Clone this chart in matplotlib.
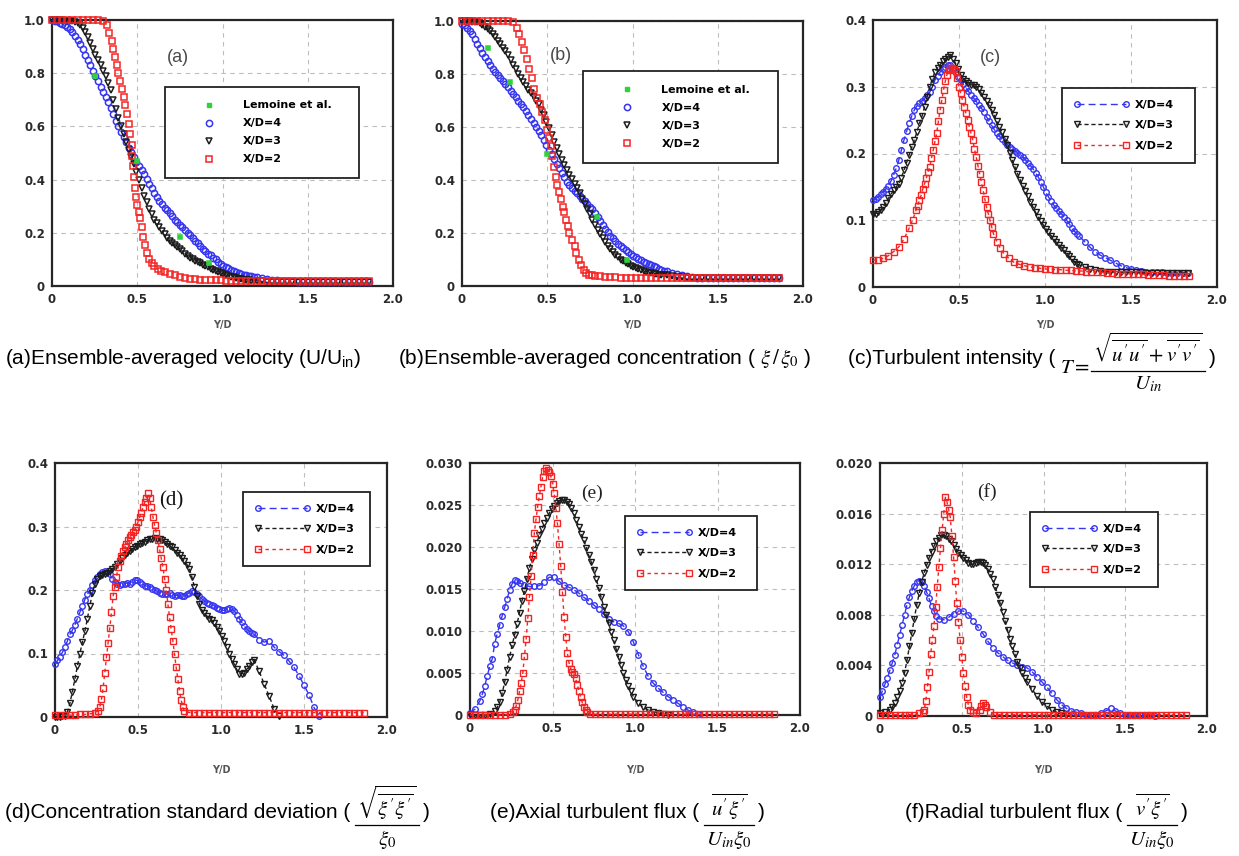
import numpy as np
import matplotlib
matplotlib.use('Agg')
import matplotlib.pyplot as plt
from matplotlib import font_manager
from matplotlib.lines import Line2D

# -----------------------------------------------------------------------------
# Profiles across the jet (Y/D), three stations X/D = 2, 3, 4
# -----------------------------------------------------------------------------

# measurement stations used by the finely sampled profiles
GRID = [0.000, 0.015, 0.030, 0.045, 0.060, 0.075, 0.090, 0.105, 0.120, 0.135,
        0.150, 0.165, 0.180, 0.195, 0.210, 0.225, 0.240, 0.255, 0.270, 0.285,
        0.300, 0.315, 0.330, 0.345, 0.360, 0.375, 0.390, 0.405, 0.420, 0.435,
        0.450, 0.465, 0.480, 0.495, 0.510, 0.525, 0.540, 0.555, 0.570, 0.585,
        0.600, 0.615, 0.630, 0.645, 0.660, 0.675, 0.690, 0.705, 0.720, 0.735,
        0.750, 0.765, 0.780, 0.795, 0.810, 0.825, 0.840, 0.855, 0.870, 0.885,
        0.900, 0.915, 0.930, 0.945, 0.960, 0.975, 0.990, 1.005, 1.020, 1.035,
        1.050, 1.065, 1.080, 1.095, 1.110, 1.125, 1.140, 1.155, 1.170, 1.185,
        1.200, 1.23, 1.26, 1.29, 1.32, 1.35, 1.38, 1.41, 1.44, 1.47,
        1.50, 1.53, 1.56, 1.59, 1.62, 1.65, 1.68, 1.71, 1.74, 1.77,
        1.80, 1.83, 1.86]

# (a) ensemble-averaged velocity U/Uin
A_X4 = [1.000, 0.998, 0.995, 0.990, 0.985, 0.981, 0.975, 0.966, 0.955, 0.941,
        0.925, 0.908, 0.890, 0.870, 0.850, 0.830, 0.810, 0.790, 0.770, 0.750,
        0.730, 0.710, 0.690, 0.668, 0.645, 0.622, 0.600, 0.580, 0.560, 0.540,
        0.520, 0.502, 0.485, 0.467, 0.450, 0.436, 0.420, 0.402, 0.385, 0.367,
        0.350, 0.334, 0.320, 0.307, 0.295, 0.285, 0.275, 0.262, 0.250, 0.240,
        0.230, 0.220, 0.210, 0.200, 0.190, 0.180, 0.170, 0.160, 0.150, 0.140,
        0.130, 0.122, 0.115, 0.107, 0.100, 0.091, 0.083, 0.077, 0.072, 0.067,
        0.062, 0.057, 0.053, 0.049, 0.046, 0.043, 0.041, 0.038, 0.036, 0.034,
        0.032, 0.029, 0.026, 0.023, 0.021, 0.019, 0.018, 0.017, 0.016, 0.016,
        0.015, 0.015, 0.015, 0.015, 0.015, 0.015, 0.015, 0.015, 0.015, 0.015,
        0.015, 0.015, 0.015]
A_X3 = [1.000, 1.000, 1.000, 0.999, 0.998, 0.997, 0.996, 0.996, 0.995, 0.993,
        0.990, 0.982, 0.970, 0.954, 0.935, 0.913, 0.890, 0.870, 0.850, 0.830,
        0.810, 0.788, 0.765, 0.735, 0.700, 0.665, 0.630, 0.600, 0.570, 0.540,
        0.510, 0.485, 0.460, 0.430, 0.400, 0.370, 0.340, 0.315, 0.290, 0.270,
        0.250, 0.235, 0.220, 0.207, 0.195, 0.182, 0.170, 0.162, 0.155, 0.148,
        0.140, 0.130, 0.120, 0.113, 0.107, 0.101, 0.095, 0.090, 0.085, 0.080,
        0.075, 0.070, 0.065, 0.060, 0.056, 0.052, 0.048, 0.044, 0.041, 0.038,
        0.035, 0.032, 0.030, 0.028, 0.026, 0.024, 0.023, 0.021, 0.020, 0.019,
        0.018, 0.017, 0.016, 0.016, 0.015, 0.015, 0.015, 0.015, 0.015, 0.015,
        0.015, 0.015, 0.015, 0.015, 0.015, 0.015, 0.015, 0.015, 0.015, 0.015,
        0.015, 0.015, 0.015]
A_X2 = [(0.00, 1.000), (0.03, 1.000), (0.06, 1.000), (0.09, 1.000), (0.12, 1.000), (0.15, 1.000),
        (0.18, 1.000), (0.21, 1.000), (0.24, 1.000), (0.27, 1.000), (0.30, 0.998), (0.32, 0.980),
        (0.335, 0.950), (0.35, 0.920), (0.36, 0.890), (0.37, 0.860), (0.38, 0.830), (0.39, 0.800),
        (0.40, 0.770), (0.41, 0.740), (0.42, 0.710), (0.43, 0.680), (0.44, 0.645), (0.45, 0.610),
        (0.46, 0.570), (0.467, 0.530), (0.472, 0.490), (0.477, 0.450), (0.482, 0.410), (0.487, 0.370),
        (0.492, 0.335), (0.50, 0.305), (0.508, 0.280), (0.516, 0.255), (0.525, 0.220), (0.535, 0.186),
        (0.545, 0.155), (0.555, 0.125), (0.57, 0.100), (0.585, 0.085), (0.60, 0.075), (0.62, 0.065),
        (0.64, 0.058), (0.66, 0.052), (0.69, 0.046), (0.72, 0.040), (0.75, 0.035), (0.78, 0.030),
        (0.81, 0.027), (0.84, 0.025), (0.87, 0.024), (0.90, 0.022), (0.93, 0.022), (0.96, 0.021),
        (0.99, 0.021), (1.02, 0.020), (1.05, 0.020), (1.08, 0.020), (1.11, 0.020), (1.14, 0.020),
        (1.17, 0.020), (1.20, 0.020), (1.23, 0.020), (1.26, 0.020), (1.29, 0.020), (1.32, 0.020),
        (1.35, 0.020), (1.38, 0.020), (1.41, 0.020), (1.44, 0.020), (1.47, 0.020), (1.50, 0.020),
        (1.53, 0.020), (1.56, 0.020), (1.59, 0.020), (1.62, 0.020), (1.65, 0.020), (1.68, 0.020),
        (1.71, 0.020), (1.74, 0.020), (1.77, 0.020), (1.80, 0.020), (1.83, 0.020), (1.86, 0.020)]
A_LEMOINE = [(0.25, 0.790), (0.50, 0.470), (0.75, 0.186), (0.92, 0.085)]

# (b) ensemble-averaged concentration xi/xi0
B_X4 = [0.990, 0.984, 0.975, 0.963, 0.950, 0.933, 0.915, 0.897, 0.880, 0.865,
        0.850, 0.835, 0.820, 0.807, 0.795, 0.785, 0.775, 0.763, 0.750, 0.737,
        0.725, 0.712, 0.700, 0.688, 0.675, 0.660, 0.645, 0.630, 0.615, 0.600,
        0.585, 0.568, 0.550, 0.533, 0.515, 0.498, 0.480, 0.462, 0.445, 0.427,
        0.410, 0.394, 0.380, 0.370, 0.360, 0.350, 0.340, 0.330, 0.320, 0.311,
        0.300, 0.289, 0.275, 0.260, 0.245, 0.230, 0.215, 0.202, 0.190, 0.180,
        0.170, 0.160, 0.150, 0.142, 0.135, 0.127, 0.120, 0.114, 0.108, 0.102,
        0.097, 0.092, 0.087, 0.082, 0.078, 0.074, 0.070, 0.066, 0.062, 0.058,
        0.055, 0.050, 0.045, 0.041, 0.037, 0.034, 0.032, 0.031, 0.030, 0.030,
        0.030, 0.030, 0.030, 0.030, 0.030, 0.030, 0.030, 0.030, 0.030, 0.030,
        0.030, 0.030, 0.030]
B_X3 = [1.000, 1.000, 1.000, 0.999, 0.998, 0.997, 0.995, 0.991, 0.985, 0.978,
        0.970, 0.961, 0.950, 0.938, 0.925, 0.913, 0.900, 0.885, 0.870, 0.853,
        0.835, 0.817, 0.800, 0.785, 0.770, 0.755, 0.740, 0.728, 0.715, 0.700,
        0.685, 0.666, 0.645, 0.620, 0.595, 0.570, 0.545, 0.522, 0.500, 0.477,
        0.455, 0.437, 0.420, 0.402, 0.385, 0.368, 0.350, 0.330, 0.310, 0.290,
        0.270, 0.250, 0.230, 0.212, 0.195, 0.180, 0.165, 0.152, 0.140, 0.129,
        0.118, 0.109, 0.100, 0.094, 0.088, 0.082, 0.077, 0.072, 0.067, 0.063,
        0.059, 0.056, 0.053, 0.050, 0.048, 0.046, 0.045, 0.043, 0.042, 0.041,
        0.040, 0.038, 0.035, 0.033, 0.031, 0.030, 0.030, 0.030, 0.030, 0.030,
        0.030, 0.030, 0.030, 0.030, 0.030, 0.030, 0.030, 0.030, 0.030, 0.030,
        0.030, 0.030, 0.030]
B_X2 = [(0.00, 1.000), (0.03, 1.000), (0.06, 1.000), (0.09, 1.000), (0.12, 1.000), (0.15, 1.000),
        (0.18, 1.000), (0.21, 1.000), (0.24, 1.000), (0.27, 1.000), (0.30, 0.995), (0.32, 0.975),
        (0.335, 0.950), (0.35, 0.920), (0.365, 0.890), (0.38, 0.855), (0.395, 0.820), (0.41, 0.785),
        (0.425, 0.745), (0.44, 0.710), (0.455, 0.685), (0.47, 0.655), (0.485, 0.625), (0.50, 0.590),
        (0.51, 0.560), (0.52, 0.530), (0.53, 0.490), (0.54, 0.450), (0.55, 0.410), (0.56, 0.380),
        (0.57, 0.355), (0.58, 0.330), (0.59, 0.300), (0.60, 0.280), (0.61, 0.250), (0.62, 0.225),
        (0.63, 0.200), (0.645, 0.175), (0.66, 0.150), (0.67, 0.125), (0.685, 0.100), (0.70, 0.080),
        (0.715, 0.062), (0.73, 0.050), (0.745, 0.043), (0.76, 0.040), (0.78, 0.038), (0.81, 0.036),
        (0.84, 0.035), (0.87, 0.034), (0.90, 0.033), (0.93, 0.032), (0.96, 0.032), (0.99, 0.031),
        (1.02, 0.031), (1.05, 0.030), (1.08, 0.030), (1.11, 0.030), (1.14, 0.030), (1.17, 0.030),
        (1.20, 0.030), (1.23, 0.030), (1.26, 0.030), (1.29, 0.030), (1.32, 0.030), (1.35, 0.030),
        (1.38, 0.030), (1.41, 0.030), (1.44, 0.030), (1.47, 0.030), (1.50, 0.030), (1.53, 0.030),
        (1.56, 0.030), (1.59, 0.030), (1.62, 0.030), (1.65, 0.030), (1.68, 0.030), (1.71, 0.030),
        (1.74, 0.030), (1.77, 0.030), (1.80, 0.030), (1.83, 0.030), (1.86, 0.030)]
B_LEMOINE = [(0.155, 0.900), (0.28, 0.770), (0.50, 0.500), (0.79, 0.260), (0.97, 0.100)]

# (c) turbulent intensity
C_X4 = [0.130, 0.132, 0.135, 0.139, 0.143, 0.147, 0.152, 0.159, 0.168, 0.178,
        0.190, 0.205, 0.220, 0.233, 0.245, 0.256, 0.265, 0.271, 0.275, 0.279,
        0.283, 0.287, 0.292, 0.300, 0.310, 0.316, 0.322, 0.327, 0.330, 0.332,
        0.332, 0.327, 0.320, 0.315, 0.310, 0.304, 0.298, 0.293, 0.288, 0.283,
        0.278, 0.273, 0.268, 0.262, 0.255, 0.248, 0.242, 0.236, 0.230, 0.226,
        0.222, 0.217, 0.213, 0.210, 0.207, 0.204, 0.201, 0.198, 0.195, 0.191,
        0.186, 0.182, 0.177, 0.171, 0.165, 0.158, 0.150, 0.142, 0.135, 0.129,
        0.123, 0.118, 0.114, 0.110, 0.105, 0.100, 0.095, 0.089, 0.084, 0.080,
        0.076, 0.068, 0.060, 0.053, 0.048, 0.044, 0.040, 0.036, 0.032, 0.029,
        0.027, 0.025, 0.024, 0.023, 0.022, 0.022, 0.022, 0.021, 0.021, 0.021,
        0.021, 0.021]
C_X3 = [0.110, 0.110, 0.112, 0.116, 0.120, 0.126, 0.133, 0.139, 0.145, 0.150,
        0.155, 0.164, 0.175, 0.186, 0.198, 0.209, 0.220, 0.232, 0.245, 0.256,
        0.270, 0.285, 0.300, 0.312, 0.322, 0.328, 0.333, 0.338, 0.342, 0.345,
        0.347, 0.342, 0.335, 0.326, 0.318, 0.312, 0.308, 0.305, 0.303, 0.302,
        0.300, 0.296, 0.290, 0.284, 0.278, 0.272, 0.265, 0.257, 0.248, 0.240,
        0.232, 0.222, 0.212, 0.201, 0.190, 0.180, 0.170, 0.161, 0.152, 0.144,
        0.136, 0.128, 0.120, 0.112, 0.105, 0.099, 0.093, 0.087, 0.082, 0.077,
        0.072, 0.067, 0.063, 0.059, 0.055, 0.050, 0.046, 0.042, 0.038, 0.035,
        0.033, 0.030, 0.027, 0.025, 0.024, 0.023, 0.023, 0.022, 0.022, 0.022,
        0.022, 0.022, 0.022, 0.021, 0.021, 0.021, 0.021, 0.021, 0.021, 0.021,
        0.021, 0.021]
C_X2 = [(0.00, 0.040), (0.03, 0.041), (0.06, 0.043), (0.09, 0.047), (0.12, 0.053), (0.15, 0.060),
        (0.18, 0.072), (0.21, 0.088), (0.23, 0.100), (0.25, 0.115), (0.26, 0.122), (0.27, 0.130),
        (0.28, 0.138), (0.29, 0.147), (0.30, 0.155), (0.31, 0.163), (0.32, 0.172), (0.33, 0.180),
        (0.34, 0.193), (0.35, 0.205), (0.36, 0.218), (0.37, 0.230), (0.38, 0.248), (0.39, 0.265),
        (0.40, 0.280), (0.41, 0.295), (0.42, 0.308), (0.43, 0.318), (0.44, 0.325), (0.45, 0.328),
        (0.46, 0.328), (0.47, 0.327), (0.48, 0.323), (0.49, 0.313), (0.50, 0.300), (0.51, 0.290),
        (0.52, 0.280), (0.53, 0.270), (0.54, 0.260), (0.55, 0.250), (0.56, 0.240), (0.57, 0.230),
        (0.58, 0.220), (0.59, 0.207), (0.60, 0.195), (0.61, 0.182), (0.62, 0.170), (0.63, 0.157),
        (0.64, 0.145), (0.65, 0.132), (0.66, 0.120), (0.67, 0.110), (0.68, 0.100), (0.69, 0.090),
        (0.70, 0.080), (0.72, 0.068), (0.74, 0.058), (0.76, 0.050), (0.79, 0.043), (0.82, 0.037),
        (0.85, 0.034), (0.88, 0.032), (0.91, 0.030), (0.94, 0.029), (0.97, 0.028), (1.00, 0.027),
        (1.03, 0.027), (1.06, 0.026), (1.09, 0.026), (1.12, 0.025), (1.15, 0.025), (1.18, 0.024),
        (1.21, 0.024), (1.24, 0.023), (1.27, 0.023), (1.30, 0.022), (1.33, 0.022), (1.36, 0.021),
        (1.39, 0.021), (1.42, 0.020), (1.45, 0.020), (1.48, 0.020), (1.51, 0.019), (1.54, 0.019),
        (1.57, 0.019), (1.60, 0.018), (1.63, 0.018), (1.66, 0.018), (1.69, 0.018), (1.72, 0.017),
        (1.75, 0.017), (1.78, 0.017), (1.81, 0.017), (1.84, 0.017)]

# (d) concentration standard deviation
D_X4 = [0.083, 0.089, 0.095, 0.102, 0.110, 0.120, 0.130, 0.137, 0.145, 0.155,
        0.165, 0.175, 0.185, 0.193, 0.200, 0.208, 0.215, 0.221, 0.225, 0.228,
        0.230, 0.228, 0.225, 0.218, 0.212, 0.209, 0.208, 0.209, 0.210, 0.211,
        0.210, 0.213, 0.216, 0.215, 0.212, 0.209, 0.207, 0.206, 0.205, 0.202,
        0.200, 0.198, 0.196, 0.194, 0.193, 0.194, 0.195, 0.192, 0.190, 0.192,
        0.192, 0.191, 0.190, 0.193, 0.196, 0.198, 0.197, 0.194, 0.190, 0.186,
        0.183, 0.180, 0.178, 0.177, 0.175, 0.172, 0.170, 0.168, 0.168, 0.170,
        0.172, 0.170, 0.167, 0.161, 0.155, 0.149, 0.143, 0.139, 0.135, 0.133,
        0.130, 0.122, 0.118, 0.120, 0.110, 0.103, 0.097, 0.088, 0.078, 0.065,
        0.050, 0.035, 0.015, 0.002]
D_X3 = [0.000, 0.000, 0.000, 0.001, 0.002, 0.008, 0.022, 0.040, 0.060, 0.080,
        0.100, 0.118, 0.135, 0.155, 0.175, 0.195, 0.210, 0.218, 0.222, 0.224,
        0.225, 0.227, 0.230, 0.233, 0.237, 0.241, 0.245, 0.250, 0.255, 0.259,
        0.262, 0.265, 0.268, 0.270, 0.272, 0.274, 0.276, 0.278, 0.280, 0.281,
        0.282, 0.281, 0.280, 0.278, 0.276, 0.273, 0.270, 0.267, 0.263, 0.259,
        0.255, 0.250, 0.245, 0.240, 0.233, 0.220, 0.205, 0.190, 0.178, 0.168,
        0.163, 0.159, 0.155, 0.152, 0.148, 0.142, 0.135, 0.128, 0.120, 0.110,
        0.100, 0.091, 0.083, 0.075, 0.068, 0.068, 0.070, 0.075, 0.080, 0.086,
        0.090, 0.072, 0.052, 0.033, 0.013, 0.001]
D_X2 = [(0.00, 0.003), (0.03, 0.003), (0.06, 0.003), (0.09, 0.003), (0.12, 0.003), (0.15, 0.004),
        (0.18, 0.004), (0.21, 0.005), (0.24, 0.006), (0.26, 0.010), (0.27, 0.016), (0.28, 0.028),
        (0.29, 0.046), (0.30, 0.070), (0.31, 0.094), (0.32, 0.117), (0.33, 0.140), (0.34, 0.165),
        (0.35, 0.190), (0.36, 0.205), (0.37, 0.220), (0.38, 0.236), (0.39, 0.245), (0.40, 0.254),
        (0.41, 0.262), (0.42, 0.267), (0.43, 0.272), (0.44, 0.278), (0.45, 0.283), (0.46, 0.287),
        (0.47, 0.291), (0.48, 0.295), (0.49, 0.300), (0.50, 0.307), (0.51, 0.315), (0.52, 0.322),
        (0.53, 0.330), (0.54, 0.338), (0.55, 0.345), (0.56, 0.352), (0.57, 0.345), (0.58, 0.330),
        (0.59, 0.315), (0.60, 0.302), (0.61, 0.290), (0.62, 0.278), (0.63, 0.264), (0.64, 0.250),
        (0.65, 0.236), (0.66, 0.218), (0.67, 0.200), (0.68, 0.178), (0.69, 0.157), (0.70, 0.138),
        (0.71, 0.120), (0.72, 0.099), (0.73, 0.078), (0.74, 0.060), (0.75, 0.041), (0.76, 0.027),
        (0.77, 0.015), (0.78, 0.009), (0.81, 0.007), (0.84, 0.007), (0.87, 0.007), (0.90, 0.007),
        (0.93, 0.007), (0.96, 0.007), (0.99, 0.007), (1.02, 0.007), (1.05, 0.007), (1.08, 0.007),
        (1.11, 0.007), (1.14, 0.007), (1.17, 0.007), (1.20, 0.007), (1.23, 0.007), (1.26, 0.007),
        (1.29, 0.007), (1.32, 0.007), (1.35, 0.007), (1.38, 0.007), (1.41, 0.007), (1.44, 0.007),
        (1.47, 0.007), (1.50, 0.007), (1.53, 0.007), (1.56, 0.007), (1.59, 0.007), (1.62, 0.007),
        (1.65, 0.007), (1.68, 0.007), (1.71, 0.007), (1.74, 0.007), (1.77, 0.007), (1.80, 0.007),
        (1.83, 0.007), (1.86, 0.007)]

# (e) axial turbulent flux
E_X4 = [(0.00, 0.0002), (0.03, 0.0007), (0.06, 0.0017), (0.075, 0.0025), (0.09, 0.0035),
        (0.105, 0.0047), (0.12, 0.0058), (0.135, 0.0067), (0.15, 0.0085), (0.165, 0.0097),
        (0.18, 0.0107), (0.195, 0.0118), (0.21, 0.0128), (0.225, 0.0138), (0.24, 0.0149),
        (0.255, 0.0156), (0.27, 0.0161), (0.285, 0.0160), (0.30, 0.0157), (0.33, 0.0155),
        (0.36, 0.0153), (0.39, 0.0153), (0.42, 0.0154), (0.45, 0.0158), (0.48, 0.0164),
        (0.51, 0.0164), (0.54, 0.0159), (0.57, 0.0155), (0.60, 0.0152), (0.63, 0.0149),
        (0.66, 0.0145), (0.69, 0.0140), (0.72, 0.0136), (0.75, 0.0131), (0.78, 0.0126),
        (0.81, 0.0120), (0.84, 0.0114), (0.87, 0.0111), (0.90, 0.0109), (0.93, 0.0106),
        (0.96, 0.0099), (0.99, 0.0087), (1.02, 0.0072), (1.05, 0.0058), (1.08, 0.0046),
        (1.11, 0.0038), (1.14, 0.0032), (1.17, 0.0027), (1.20, 0.0022), (1.23, 0.0018),
        (1.26, 0.0014), (1.29, 0.0010), (1.32, 0.0006), (1.35, 0.0003), (1.38, 0.0001)]
E_X3 = [(0.00, 0.0000), (0.03, 0.0000), (0.06, 0.0000), (0.09, 0.0000), (0.12, 0.0001),
        (0.15, 0.0005), (0.165, 0.0009), (0.18, 0.0015), (0.195, 0.0026), (0.21, 0.0039),
        (0.225, 0.0054), (0.24, 0.0069), (0.255, 0.0083), (0.27, 0.0095), (0.285, 0.0108),
        (0.30, 0.0122), (0.315, 0.0136), (0.33, 0.0148), (0.345, 0.0162), (0.36, 0.0175),
        (0.375, 0.0186), (0.39, 0.0196), (0.405, 0.0205), (0.42, 0.0214), (0.435, 0.0221),
        (0.45, 0.0228), (0.465, 0.0234), (0.48, 0.0240), (0.495, 0.0245), (0.51, 0.0249),
        (0.525, 0.0252), (0.54, 0.0255), (0.555, 0.0256), (0.57, 0.0256), (0.585, 0.0254),
        (0.60, 0.0251), (0.615, 0.0246), (0.63, 0.0240), (0.645, 0.0232), (0.66, 0.0224),
        (0.675, 0.0216), (0.69, 0.0208), (0.705, 0.0199), (0.72, 0.0190), (0.735, 0.0182),
        (0.75, 0.0173), (0.765, 0.0162), (0.78, 0.0151), (0.795, 0.0140), (0.81, 0.0129),
        (0.825, 0.0119), (0.84, 0.0109), (0.855, 0.0099), (0.87, 0.0089), (0.885, 0.0079),
        (0.90, 0.0069), (0.915, 0.0060), (0.93, 0.0050), (0.945, 0.0042), (0.96, 0.0034),
        (0.975, 0.0028), (0.99, 0.0022), (1.02, 0.0014), (1.05, 0.0009), (1.08, 0.0006),
        (1.11, 0.0004), (1.14, 0.0002), (1.17, 0.0001), (1.20, 0.0000)]
E_X2 = [(0.00, 0.0000), (0.03, 0.0000), (0.06, 0.0000), (0.09, 0.0000), (0.12, 0.0000),
        (0.15, 0.0000), (0.18, 0.0000), (0.21, 0.0000), (0.24, 0.0001), (0.26, 0.0003),
        (0.27, 0.0006), (0.28, 0.0011), (0.29, 0.0018), (0.30, 0.0028), (0.31, 0.0038),
        (0.32, 0.0050), (0.33, 0.0070), (0.34, 0.0090), (0.35, 0.0115), (0.36, 0.0140),
        (0.37, 0.0165), (0.38, 0.0190), (0.39, 0.0217), (0.40, 0.0233), (0.41, 0.0248),
        (0.42, 0.0261), (0.43, 0.0272), (0.44, 0.0283), (0.45, 0.0290), (0.46, 0.0294),
        (0.47, 0.0292), (0.48, 0.0289), (0.49, 0.0284), (0.50, 0.0275), (0.51, 0.0264),
        (0.52, 0.0247), (0.53, 0.0228), (0.54, 0.0203), (0.55, 0.0177), (0.56, 0.0147),
        (0.57, 0.0117), (0.58, 0.0093), (0.59, 0.0074), (0.60, 0.0062), (0.61, 0.0055),
        (0.62, 0.0051), (0.63, 0.0049), (0.64, 0.0044), (0.65, 0.0036), (0.66, 0.0029),
        (0.67, 0.0022), (0.68, 0.0015), (0.69, 0.0010), (0.70, 0.0006), (0.71, 0.0003),
        (0.73, 0.0001), (0.76, 0.0001), (0.79, 0.0001), (0.82, 0.0001), (0.85, 0.0001),
        (0.88, 0.0001), (0.91, 0.0001), (0.94, 0.0001), (0.97, 0.0001), (1.00, 0.0001),
        (1.03, 0.0001), (1.06, 0.0001), (1.09, 0.0001), (1.12, 0.0001), (1.15, 0.0001),
        (1.18, 0.0001), (1.21, 0.0001), (1.24, 0.0001), (1.27, 0.0001), (1.30, 0.0001),
        (1.33, 0.0001), (1.36, 0.0001), (1.39, 0.0001), (1.42, 0.0001), (1.45, 0.0001),
        (1.48, 0.0001), (1.51, 0.0001), (1.54, 0.0001), (1.57, 0.0001), (1.60, 0.0001),
        (1.63, 0.0001), (1.66, 0.0001), (1.69, 0.0001), (1.72, 0.0001), (1.75, 0.0001),
        (1.78, 0.0001), (1.81, 0.0001), (1.84, 0.0001)]

# (f) radial turbulent flux
F_X4 = [(0.00, 0.0015), (0.015, 0.0020), (0.03, 0.0025), (0.045, 0.0030), (0.06, 0.0036),
        (0.075, 0.0042), (0.09, 0.0048), (0.105, 0.0056), (0.12, 0.0064), (0.135, 0.0072),
        (0.15, 0.0080), (0.165, 0.0088), (0.18, 0.0094), (0.195, 0.0099), (0.21, 0.0103),
        (0.225, 0.0106), (0.24, 0.0107), (0.255, 0.0106), (0.27, 0.0103), (0.285, 0.0098),
        (0.30, 0.0093), (0.315, 0.0087), (0.33, 0.0083), (0.345, 0.0079), (0.36, 0.0077),
        (0.39, 0.0076), (0.42, 0.0078), (0.45, 0.0081), (0.48, 0.0083), (0.51, 0.0083),
        (0.54, 0.0080), (0.57, 0.0075), (0.60, 0.0070), (0.63, 0.0065), (0.66, 0.0059),
        (0.69, 0.0054), (0.72, 0.0050), (0.75, 0.0047), (0.78, 0.0044), (0.81, 0.0042),
        (0.84, 0.0040), (0.87, 0.0039), (0.90, 0.0038), (0.93, 0.0035), (0.96, 0.0031),
        (0.99, 0.0027), (1.02, 0.0023), (1.05, 0.0018), (1.08, 0.0013), (1.11, 0.0009),
        (1.14, 0.0006), (1.17, 0.0004), (1.20, 0.0003), (1.23, 0.0002), (1.26, 0.0001),
        (1.29, 0.0001), (1.32, 0.0001), (1.35, 0.0002), (1.38, 0.0004), (1.41, 0.0006),
        (1.44, 0.0004), (1.47, 0.0002), (1.50, 0.0001), (1.53, 0.0001), (1.56, 0.0001),
        (1.59, 0.0001), (1.62, 0.0001), (1.65, 0.0001), (1.68, 0.0000)]
F_X3 = [(0.00, 0.0002), (0.03, 0.0003), (0.06, 0.0005), (0.075, 0.0007), (0.09, 0.0010),
        (0.105, 0.0015), (0.12, 0.0020), (0.135, 0.0026), (0.15, 0.0034), (0.165, 0.0044),
        (0.18, 0.0055), (0.195, 0.0066), (0.21, 0.0077), (0.225, 0.0088), (0.24, 0.0097),
        (0.255, 0.0106), (0.27, 0.0113), (0.285, 0.0119), (0.30, 0.0125), (0.315, 0.0130),
        (0.33, 0.0134), (0.345, 0.0138), (0.36, 0.0141), (0.375, 0.0143), (0.39, 0.0143),
        (0.405, 0.0142), (0.42, 0.0140), (0.435, 0.0138), (0.45, 0.0135), (0.465, 0.0132),
        (0.48, 0.0129), (0.495, 0.0127), (0.51, 0.0125), (0.525, 0.0123), (0.54, 0.0121),
        (0.555, 0.0120), (0.57, 0.0120), (0.585, 0.0121), (0.60, 0.0122), (0.615, 0.0122),
        (0.63, 0.0121), (0.645, 0.0119), (0.66, 0.0116), (0.675, 0.0112), (0.69, 0.0108),
        (0.705, 0.0102), (0.72, 0.0096), (0.735, 0.0089), (0.75, 0.0082), (0.765, 0.0075),
        (0.78, 0.0068), (0.795, 0.0061), (0.81, 0.0055), (0.825, 0.0049), (0.84, 0.0043),
        (0.855, 0.0038), (0.87, 0.0034), (0.885, 0.0030), (0.90, 0.0027), (0.93, 0.0021),
        (0.96, 0.0016), (0.99, 0.0011), (1.02, 0.0008), (1.05, 0.0005), (1.08, 0.0003),
        (1.11, 0.0002), (1.14, 0.0001)]
F_X2 = [(0.00, 0.0001), (0.03, 0.0001), (0.06, 0.0001), (0.09, 0.0001), (0.12, 0.0001),
        (0.15, 0.0001), (0.18, 0.0001), (0.21, 0.0001), (0.24, 0.0002), (0.26, 0.0003),
        (0.27, 0.0005), (0.28, 0.0012), (0.29, 0.0023), (0.30, 0.0035), (0.31, 0.0049),
        (0.32, 0.0060), (0.33, 0.0071), (0.34, 0.0086), (0.35, 0.0102), (0.36, 0.0118),
        (0.37, 0.0133), (0.38, 0.0147), (0.39, 0.0160), (0.40, 0.0173), (0.41, 0.0169),
        (0.42, 0.0163), (0.43, 0.0157), (0.44, 0.0142), (0.45, 0.0126), (0.46, 0.0107),
        (0.47, 0.0089), (0.48, 0.0074), (0.49, 0.0060), (0.50, 0.0047), (0.51, 0.0034),
        (0.52, 0.0024), (0.53, 0.0015), (0.54, 0.0009), (0.55, 0.0005), (0.57, 0.0003),
        (0.59, 0.0002), (0.61, 0.0005), (0.62, 0.0008), (0.63, 0.0010), (0.64, 0.0009),
        (0.65, 0.0007), (0.67, 0.0003), (0.70, 0.0001), (0.73, 0.0001), (0.76, 0.0001),
        (0.79, 0.0001), (0.82, 0.0001), (0.85, 0.0001), (0.88, 0.0001), (0.91, 0.0001),
        (0.94, 0.0001), (0.97, 0.0001), (1.00, 0.0001), (1.03, 0.0001), (1.06, 0.0001),
        (1.09, 0.0001), (1.12, 0.0001), (1.15, 0.0001), (1.18, 0.0001), (1.21, 0.0001),
        (1.24, 0.0001), (1.27, 0.0001), (1.30, 0.0001), (1.33, 0.0001), (1.36, 0.0001),
        (1.39, 0.0001), (1.42, 0.0001), (1.45, 0.0001), (1.48, 0.0001), (1.51, 0.0001),
        (1.54, 0.0001), (1.57, 0.0001), (1.60, 0.0001), (1.63, 0.0001), (1.66, 0.0001),
        (1.69, 0.0001), (1.72, 0.0001), (1.75, 0.0001), (1.78, 0.0001), (1.81, 0.0001),
        (1.84, 0.0001), (1.87, 0.0001)]

X_TICKS = [0.0, 0.5, 1.0, 1.5, 2.0]
X_TICK_LABELS = ['0', '0.5', '1.0', '1.5', '2.0']
Y_TICKS_MEAN = [0.0, 0.2, 0.4, 0.6, 0.8, 1.0]
Y_LABELS_MEAN = ['0', '0.2', '0.4', '0.6', '0.8', '1.0']
Y_TICKS_RMS = [0.0, 0.1, 0.2, 0.3, 0.4]
Y_LABELS_RMS = ['0', '0.1', '0.2', '0.3', '0.4']
Y_TICKS_AX = [0.0, 0.005, 0.010, 0.015, 0.020, 0.025, 0.030]
Y_LABELS_AX = ['0', '0.005', '0.010', '0.015', '0.020', '0.025', '0.030']
Y_TICKS_RAD = [0.0, 0.004, 0.008, 0.012, 0.016, 0.020]
Y_LABELS_RAD = ['0', '0.004', '0.008', '0.012', '0.016', '0.020']

STATIONS = ['X/D=4', 'X/D=3', 'X/D=2']

# -----------------------------------------------------------------------------
# Styling
# -----------------------------------------------------------------------------

W, H = 1239, 856
BLUE = '#3535f2'
BLACK = '#1c1c1c'
RED = '#f42424'
GREEN = '#2fd23a'


def _family(*names):
    have = {f.name for f in font_manager.fontManager.ttflist}
    for n in names:
        if n in have:
            return n
    return 'DejaVu Sans'


CAP_FONT = _family('Liberation Sans Narrow', 'Arial Narrow', 'Liberation Sans')
CAP_SIZE = 17 if 'Narrow' in CAP_FONT else 15
SERIF = _family('Liberation Serif', 'DejaVu Serif')
SANS = _family('Liberation Sans', 'DejaVu Sans')

plt.rcParams.update({
    'font.family': 'DejaVu Sans',
    'mathtext.fontset': 'stix',
    'mathtext.rm': CAP_FONT,
    'mathtext.it': CAP_FONT + ':italic',
    'mathtext.bf': CAP_FONT + ':bold',
})

fig = plt.figure(figsize=(W / 100, H / 100), dpi=100)
R = fig.canvas.get_renderer()


def make_axes(l, t, r, b):
    return fig.add_axes([l / W, 1 - b / H, (r - l) / W, (b - t) / H])


def style_axes(ax, yticks, ylabels):
    ax.set_xlim(0, 2.0)
    ax.set_ylim(yticks[0], yticks[-1])
    ax.set_xticks(X_TICKS)
    ax.set_xticklabels(X_TICK_LABELS)
    ax.set_yticks(yticks)
    ax.set_yticklabels(ylabels)
    ax.tick_params(length=0, labelsize=8.5, pad=5, labelcolor='#2a2a2a')
    for lab in ax.get_xticklabels() + ax.get_yticklabels():
        lab.set_fontweight('bold')
    ax.grid(True, color='#bdbdbd', linestyle=(0, (4, 4)), linewidth=0.8)
    ax.set_axisbelow(True)
    for s in ax.spines.values():
        s.set_linewidth(1.6)
        s.set_color('#262626')


def xy(pts):
    if np.ndim(pts[0]) == 0:
        return np.array(GRID[:len(pts)]), np.array(pts, dtype=float)
    a = np.array(pts, dtype=float)
    return a[:, 0], a[:, 1]


def scatter_profile(ax, pts, color, marker, ms, filled=False, z=3):
    x, y = xy(pts)
    ax.plot(x, y, ls='none', marker=marker, ms=ms, mec=color,
            mfc=color if filled else 'none', mew=1.1, clip_on=False, zorder=z)


def line_profile(ax, pts, color, marker, ms, dash, z=3):
    x, y = xy(pts)
    ax.plot(x, y, color=color, lw=1.0, ls=dash, marker=marker, ms=ms, mec=color,
            mfc='none', mew=1.0, clip_on=False, zorder=z)


def panel_tag(ax, s, x, y, family, size, color):
    ax.text(x, y, s, transform=ax.transAxes, ha='center', va='center',
            family=family, fontsize=size, color=color)


def mean_legend(ax, x0, top, width):
    handles = [
        Line2D([], [], ls='none', marker='s', ms=3.5, mec=GREEN, mfc=GREEN),
        Line2D([], [], ls='none', marker='o', ms=4.5, mec=BLUE, mfc='none', mew=1.1),
        Line2D([], [], ls='none', marker='v', ms=4.5, mec=BLACK, mfc='none', mew=1.1),
        Line2D([], [], ls='none', marker='s', ms=5, mec=RED, mfc='none', mew=1.1),
    ]
    labels = ['Lemoine et al.'] + STATIONS
    leg = ax.legend(handles, labels, loc='upper left', bbox_to_anchor=(x0, top, width, 0),
                    mode='expand', borderaxespad=0, numpoints=1, fancybox=False,
                    framealpha=1, edgecolor='#222222', handlelength=5.5, handletextpad=0.3,
                    labelspacing=0.72, borderpad=1.25,
                    prop={'weight': 'bold', 'size': 8})
    leg.get_frame().set_linewidth(1.3)


def fluct_legend(ax, x0, top, width):
    handles = [
        Line2D([], [], color=BLUE, lw=1.0, ls=(0, (5, 3)), marker='o', ms=4, mfc='none', mew=1.0),
        Line2D([], [], color=BLACK, lw=1.0, ls=(0, (3, 2)), marker='v', ms=4, mfc='none', mew=1.0),
        Line2D([], [], color=RED, lw=1.0, ls=(0, (2.5, 2.5)), marker='s', ms=4, mfc='none', mew=1.0),
    ]
    leg = ax.legend(handles, STATIONS, loc='upper left', bbox_to_anchor=(x0, top, width, 0),
                    mode='expand', borderaxespad=0, numpoints=2, fancybox=False,
                    framealpha=1, edgecolor='#222222', handlelength=5.0, handletextpad=0.5,
                    labelspacing=0.95, borderpad=1.05,
                    prop={'weight': 'bold', 'size': 8})
    leg.get_frame().set_linewidth(1.3)


# -----------------------------------------------------------------------------
# Panels
# -----------------------------------------------------------------------------

ax_a = make_axes(52, 20, 393, 286)
style_axes(ax_a, Y_TICKS_MEAN, Y_LABELS_MEAN)
scatter_profile(ax_a, A_X4, BLUE, 'o', 4.5)
scatter_profile(ax_a, A_X3, BLACK, 'v', 4.5)
scatter_profile(ax_a, A_X2, RED, 's', 5)
scatter_profile(ax_a, A_LEMOINE, GREEN, 's', 3.5, filled=True, z=4)
mean_legend(ax_a, 0.33, 0.75, 0.57)
panel_tag(ax_a, '(a)', 0.37, 0.86, SANS, 13, '#4a4a4a')

ax_b = make_axes(462, 21, 803, 286)
style_axes(ax_b, Y_TICKS_MEAN, Y_LABELS_MEAN)
scatter_profile(ax_b, B_X4, BLUE, 'o', 4.5)
scatter_profile(ax_b, B_X3, BLACK, 'v', 4.5)
scatter_profile(ax_b, B_X2, RED, 's', 5)
scatter_profile(ax_b, B_LEMOINE, GREEN, 's', 3.5, filled=True, z=4)
mean_legend(ax_b, 0.355, 0.81, 0.572)
panel_tag(ax_b, '(b)', 0.29, 0.87, SANS, 13, '#4a4a4a')

ax_c = make_axes(873, 20, 1217, 287)
style_axes(ax_c, Y_TICKS_RMS, Y_LABELS_RMS)
line_profile(ax_c, C_X4, BLUE, 'o', 4, (0, (5, 3)))
line_profile(ax_c, C_X3, BLACK, 'v', 4, (0, (3, 2)))
line_profile(ax_c, C_X2, RED, 's', 4, (0, (2.5, 2.5)))
fluct_legend(ax_c, 0.55, 0.745, 0.386)
panel_tag(ax_c, '(c)', 0.34, 0.86, SANS, 13, '#4a4a4a')

ax_d = make_axes(55, 463, 387, 717)
style_axes(ax_d, Y_TICKS_RMS, Y_LABELS_RMS)
line_profile(ax_d, D_X4, BLUE, 'o', 4, (0, (5, 3)))
line_profile(ax_d, D_X3, BLACK, 'v', 4, (0, (3, 2)))
line_profile(ax_d, D_X2, RED, 's', 4, (0, (2.5, 2.5)))
fluct_legend(ax_d, 0.566, 0.886, 0.383)
panel_tag(ax_d, '(d)', 0.35, 0.85, SERIF, 15, '#111111')

ax_e = make_axes(470, 463, 800, 715)
style_axes(ax_e, Y_TICKS_AX, Y_LABELS_AX)
line_profile(ax_e, E_X4, BLUE, 'o', 4, (0, (5, 3)))
line_profile(ax_e, E_X3, BLACK, 'v', 4, (0, (3, 2)))
line_profile(ax_e, E_X2, RED, 's', 4, (0, (2.5, 2.5)))
fluct_legend(ax_e, 0.47, 0.79, 0.40)
panel_tag(ax_e, '(e)', 0.37, 0.88, SERIF, 14, '#222222')

ax_f = make_axes(880, 463, 1207, 716)
style_axes(ax_f, Y_TICKS_RAD, Y_LABELS_RAD)
line_profile(ax_f, F_X4, BLUE, 'o', 4, (0, (5, 3)))
line_profile(ax_f, F_X3, BLACK, 'v', 4, (0, (3, 2)))
line_profile(ax_f, F_X2, RED, 's', 4, (0, (2.5, 2.5)))
fluct_legend(ax_f, 0.459, 0.806, 0.391)
panel_tag(ax_f, '(f)', 0.327, 0.885, SERIF, 14, '#222222')

# x-axis titles
for ax in (ax_a, ax_b, ax_c):
    pos = ax.get_position()
    fig.text(pos.x0 + pos.width / 2, 1 - 325 / H, 'Y/D', ha='center', va='center',
             fontsize=7, fontweight='bold', color='#555555')
for ax in (ax_d, ax_e, ax_f):
    pos = ax.get_position()
    fig.text(pos.x0 + pos.width / 2, 1 - 770 / H, 'Y/D', ha='center', va='center',
             fontsize=7, fontweight='bold', color='#555555')

# -----------------------------------------------------------------------------
# Captions under each row
# -----------------------------------------------------------------------------


def put(x, y, s, **kw):
    kw.setdefault('va', 'baseline')
    kw.setdefault('ha', 'left')
    t = fig.text(x / W, 1 - y / H, s, **kw)
    return t.get_window_extent(R).x1


def caption(x, y, s, **kw):
    return put(x, y, s, family=CAP_FONT, fontsize=CAP_SIZE, color='black', **kw)


def fraction(x, y, num, den, size=15, bar_dy=9, den_dy=29):
    tn = fig.text(0, 0, num, fontsize=size, math_fontfamily='stix', ha='center', va='baseline')
    td = fig.text(0, 0, den, fontsize=size, math_fontfamily='stix', ha='center', va='baseline')
    w = max(tn.get_window_extent(R).width, td.get_window_extent(R).width) + 4
    xc = x + w / 2
    tn.set_position((xc / W, 1 - y / H))
    td.set_position((xc / W, 1 - (y + den_dy) / H))
    fig.add_artist(Line2D([x / W, (x + w) / W], [1 - (y + bar_dy) / H] * 2,
                          transform=fig.transFigure, color='black', lw=0.9))
    return x + w


ROW1, ROW2 = 364, 818

caption(5, ROW1, r'(a)Ensemble-averaged velocity (U/U$_{\mathrm{in}}$)', math_fontfamily='custom')
caption(398, ROW1, r'(b)Ensemble-averaged concentration ( $\xi\,/\,\xi_0$ )', math_fontfamily='stix')

xe = caption(848, ROW1, '(c)Turbulent intensity (')
xe = put(xe + 4, ROW1 + 9, r'$T=$', fontsize=15, math_fontfamily='stix')
xe = fraction(xe + 2, ROW1 - 2,
              r'$\sqrt{\overline{u^{\prime}u^{\prime}}+\overline{v^{\prime}v^{\prime}}}$',
              r'$U_{in}$', den_dy=27)
caption(xe + 4, ROW1, ')')

xe = caption(5, ROW2, '(d)Concentration standard deviation (')
xe = fraction(xe + 5, ROW2 - 2, r'$\sqrt{\overline{\xi^{\prime}\xi^{\prime}}}$', r'$\xi_0$')
caption(xe + 4, ROW2, ')')

xe = caption(490, ROW2, '(e)Axial turbulent flux (')
xe = fraction(xe + 5, ROW2 - 2, r'$\overline{u^{\prime}\xi^{\prime}}$', r'$U_{in}\xi_0$')
caption(xe + 4, ROW2, ')')

xe = caption(905, ROW2, '(f)Radial turbulent flux (')
xe = fraction(xe + 5, ROW2 - 2, r'$\overline{v^{\prime}\xi^{\prime}}$', r'$U_{in}\xi_0$')
caption(xe + 4, ROW2, ')')

fig.savefig('out.png', dpi=100)
